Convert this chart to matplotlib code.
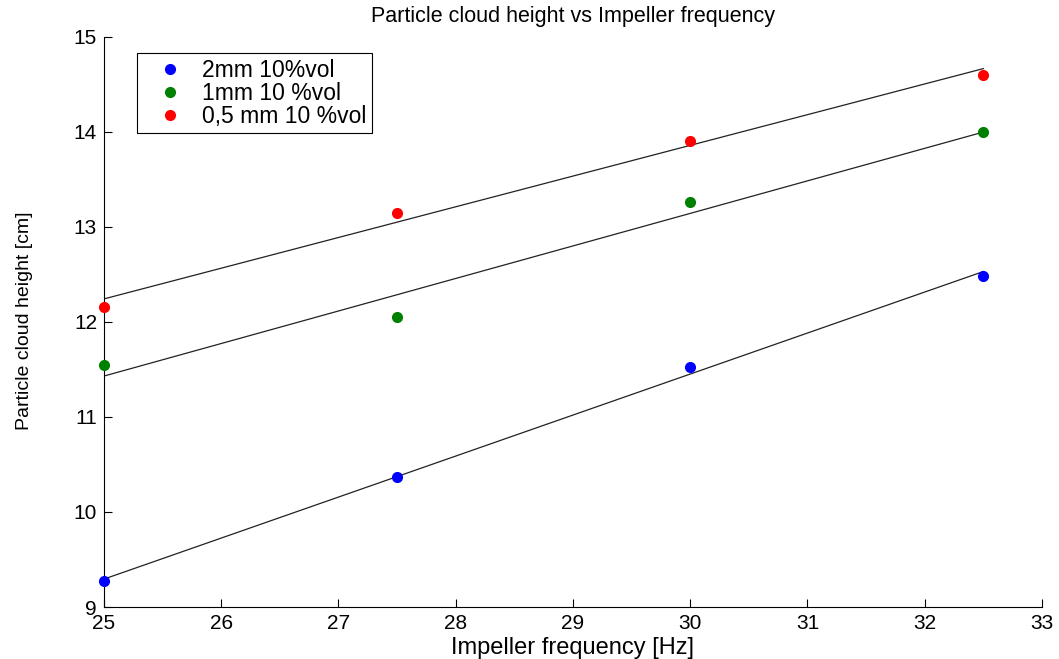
import matplotlib
matplotlib.use("Agg")
import matplotlib.pyplot as plt
import numpy as np

plt.rcParams['font.family'] = ['Liberation Sans', 'DejaVu Sans']

FREQ = [25, 27.5, 30, 32.5]
H_2MM = [9.27, 10.37, 11.53, 12.48]
H_1MM = [11.55, 12.05, 13.26, 14.0]
H_05MM = [12.16, 13.15, 13.91, 14.6]

LABELS = ["2mm 10%vol", "1mm 10 %vol", "0,5 mm 10 %vol"]
COLORS = [(0, 0, 1), (0, 0.5, 0), (1, 0, 0)]

fig = plt.figure(figsize=(10.59, 6.59), dpi=100)
ax = fig.add_axes([0.0982, 0.0789, 0.8857, 0.865])

x = np.array(FREQ)
for series, col, lab in zip([H_2MM, H_1MM, H_05MM], COLORS, LABELS):
    ax.plot(x, series, 'o', color=col, markersize=7, label=lab, clip_on=False, zorder=3)
    # linear fit line
    p = np.polyfit(x, series, 1)
    ax.plot(x[[0, -1]], np.polyval(p, x[[0, -1]]), '-', color='#222222', lw=0.9, zorder=2)

ax.set_xlim(25, 33)
ax.set_ylim(9, 15)
ax.set_xticks(range(25, 34))
ax.set_yticks(range(9, 16))
ax.spines['top'].set_visible(False)
ax.spines['right'].set_visible(False)
ax.tick_params(direction='in', length=6, labelsize=15, top=False, right=False)
ax.tick_params(axis='x', pad=5)
ax.tick_params(axis='y', pad=5)

ax.set_title("Particle cloud height vs Impeller frequency", fontsize=15.5, pad=11)
ax.set_xlabel("Impeller frequency [Hz]", fontsize=17, labelpad=3)
ax.set_ylabel("Particle cloud height [cm]", fontsize=14)
ax.yaxis.set_label_coords(-0.076, 0.503)

leg = ax.legend(loc='upper left', bbox_to_anchor=(0.035, 0.972), borderaxespad=0,
                fontsize=16.5, frameon=True, fancybox=False, edgecolor='black',
                framealpha=1, handlelength=2.4, handletextpad=0.2, borderpad=0.25,
                labelspacing=0.0, numpoints=1)
leg.get_frame().set_linewidth(0.8)

fig.savefig("out.png", dpi=100)
